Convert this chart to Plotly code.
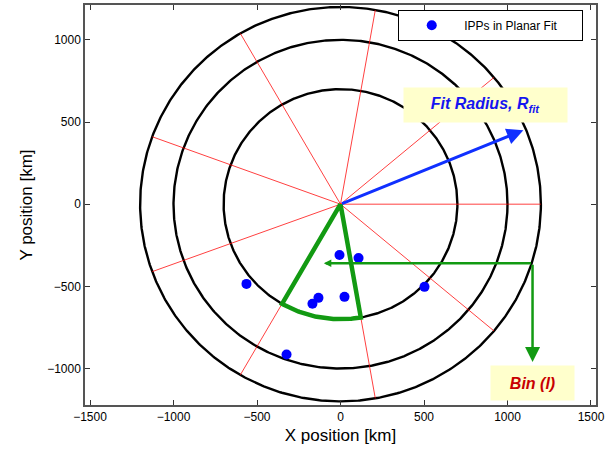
import numpy as np
import plotly.graph_objects as go

# ---- data ----
ring_radii = [700, 1000, 1200]              # km
bin_angles_deg = [0, 40, 80, 120, 160, 200, 240, 280, 320]
bin_line_radius = 1200
sector_angles_deg = [240, 280]
sector_radius = 700
ipp_x = [-6, 108, -563, -132, -168, 24, 503, -323]
ipp_y = [-309, -327, -485, -570, -606, -564, -503, -915]
fit_arrow_tip = (1095, 450)
bin_arrow_start = (1150, -360)
bin_arrow_left = (-100, -360)
bin_arrow_down = (1150, -960)
x_ticks = [-1500, -1000, -500, 0, 500, 1000, 1500]
y_ticks = [-1000, -500, 0, 500, 1000]

fig = go.Figure()

# rings
th = np.linspace(0, 2 * np.pi, 721)
for r in ring_radii:
    fig.add_trace(go.Scatter(x=r * np.cos(th), y=r * np.sin(th), mode="lines",
                             line=dict(color="black", width=2.4),
                             showlegend=False, hoverinfo="skip"))

# radial bin lines
for a in bin_angles_deg:
    ar = np.deg2rad(a)
    fig.add_trace(go.Scatter(x=[0, bin_line_radius * np.cos(ar)],
                             y=[0, bin_line_radius * np.sin(ar)], mode="lines",
                             line=dict(color="rgba(255,0,0,0.75)", width=1),
                             showlegend=False, hoverinfo="skip"))

# green sector
sa = np.deg2rad(np.linspace(sector_angles_deg[0], sector_angles_deg[1], 60))
sx = np.concatenate([[0], sector_radius * np.cos(sa), [0]])
sy = np.concatenate([[0], sector_radius * np.sin(sa), [0]])
fig.add_trace(go.Scatter(x=sx, y=sy, mode="lines",
                         line=dict(color="#129a12", width=4.5),
                         showlegend=False, hoverinfo="skip"))

# points
fig.add_trace(go.Scatter(x=ipp_x, y=ipp_y, mode="markers",
                         marker=dict(color="#0000ff", size=10),
                         name="IPPs in Planar Fit&nbsp;&nbsp;&nbsp;&nbsp;&nbsp;&nbsp;"))

# blue arrow (fit radius)
fig.add_annotation(x=fit_arrow_tip[0], y=fit_arrow_tip[1], ax=0, ay=0,
                   xref="x", yref="y", axref="x", ayref="y", text="",
                   showarrow=True, arrowhead=2, arrowsize=1.1, arrowwidth=3,
                   arrowcolor="#1030ff")
# green arrows (bin)
fig.add_annotation(x=bin_arrow_left[0], y=bin_arrow_left[1],
                   ax=bin_arrow_start[0], ay=bin_arrow_start[1],
                   xref="x", yref="y", axref="x", ayref="y", text="",
                   showarrow=True, arrowhead=2, arrowsize=0.6, arrowwidth=2.5,
                   arrowcolor="#129a12")
fig.add_annotation(x=bin_arrow_down[0], y=bin_arrow_down[1],
                   ax=bin_arrow_start[0], ay=bin_arrow_start[1],
                   xref="x", yref="y", axref="x", ayref="y", text="",
                   showarrow=True, arrowhead=2, arrowsize=1.2, arrowwidth=2.5,
                   arrowcolor="#129a12")

# label boxes
fig.add_annotation(x=868, y=606, xref="x", yref="y", showarrow=False,
                   text="<b><i>Fit Radius, R<sub>fit</sub></i></b>",
                   font=dict(family="Liberation Sans, Arial", size=16, color="#1414f0"),
                   bgcolor="#ffffcc", width=157, height=28, borderpad=3)
fig.add_annotation(x=1150, y=-1091, xref="x", yref="y", showarrow=False,
                   text="<b><i>Bin (l)</i></b>",
                   font=dict(family="Liberation Sans, Arial", size=16, color="#c80000"),
                   bgcolor="#ffffcc", width=77, height=28, borderpad=3)

axis_common = dict(showline=True, linecolor="#555555", linewidth=1.5, mirror="ticks",
                   ticks="inside", ticklen=5, tickcolor="#333333", showgrid=False,
                   zeroline=False,
                   tickfont=dict(family="Liberation Sans, Arial", size=12, color="black"))

fig.update_layout(
    width=612, height=459,
    margin=dict(l=85, r=16, t=3, b=54),
    paper_bgcolor="white", plot_bgcolor="white",
    xaxis=dict(range=[-1530, 1530], tickvals=x_ticks,
               title=dict(text="X position [km]", standoff=6,
                          font=dict(family="Liberation Sans, Arial", size=17, color="black")),
               **axis_common),
    yaxis=dict(range=[-1222, 1212], tickvals=y_ticks,
               title=dict(text="Y position [km]", standoff=10,
                          font=dict(family="Liberation Sans, Arial", size=17, color="black")),
               **axis_common),
    legend=dict(x=0.613, y=0.988, xanchor="left", yanchor="top",
                bgcolor="white", bordercolor="black", borderwidth=1,
                font=dict(family="Liberation Sans, Arial", size=12, color="black"),
                itemwidth=55),
    showlegend=True,
)

fig.write_html("out.html")
